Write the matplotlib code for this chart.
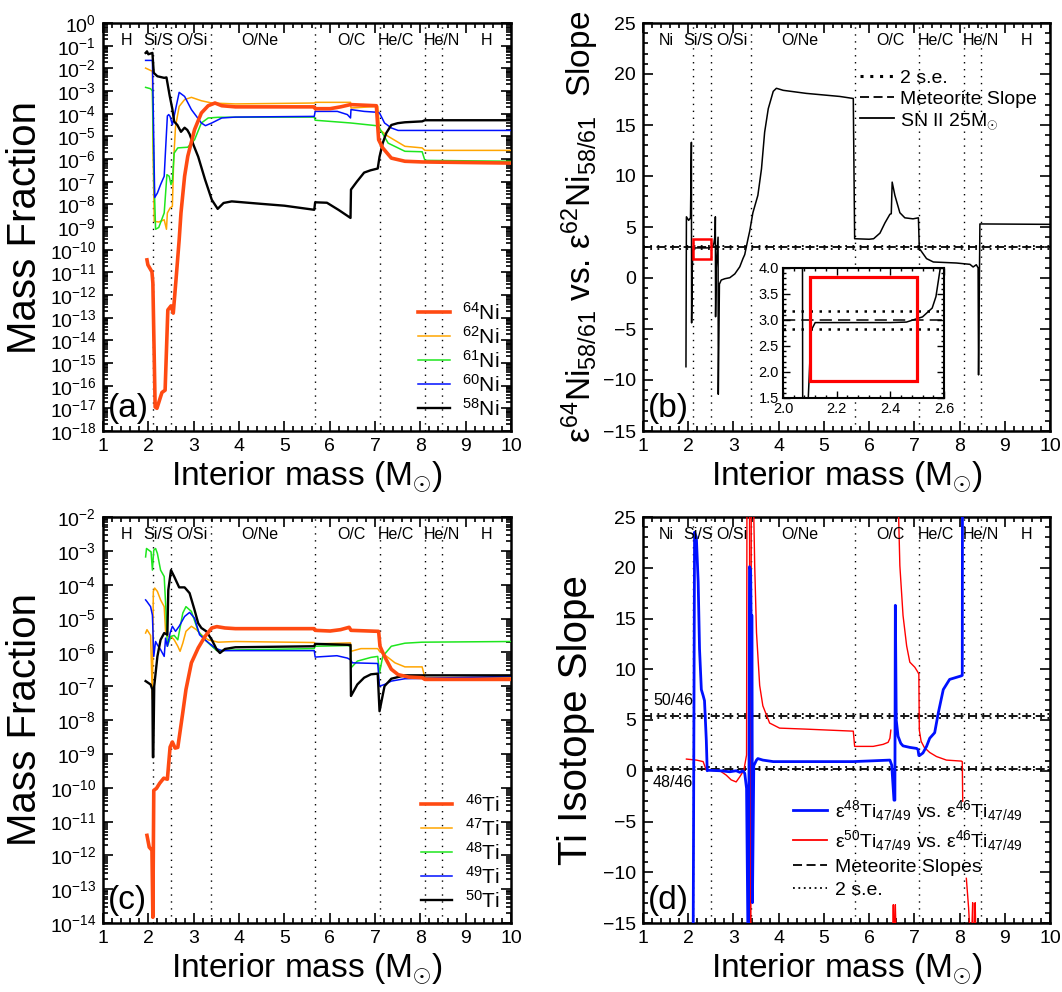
import numpy as np
import matplotlib
matplotlib.use('Agg')
import matplotlib.pyplot as plt
from matplotlib.ticker import AutoMinorLocator, MultipleLocator, LogLocator, LogFormatterMathtext, FormatStrFormatter
from matplotlib.patches import Rectangle
from matplotlib.lines import Line2D

plt.rcParams['font.family'] = ['Liberation Sans', 'DejaVu Sans']
plt.rcParams['mathtext.fontset'] = 'custom'
plt.rcParams['mathtext.rm'] = 'Liberation Sans'
plt.rcParams['mathtext.it'] = 'Liberation Sans:italic'
plt.rcParams['mathtext.bf'] = 'Liberation Sans:bold'
plt.rcParams['mathtext.sf'] = 'Liberation Sans'

# ---------------- zones ----------------
zone_bounds = [2.1, 2.5, 3.38, 5.68, 7.1, 8.1, 8.48]
zone_label_x = [1.52, 2.22, 2.97, 4.47, 6.48, 7.47, 8.47, 9.47]
zone_names_mass = ['H', 'Si/S', 'O/Si', 'O/Ne', 'O/C', 'He/C', 'He/N', 'H']
zone_names_slope = ['Ni', 'Si/S', 'O/Si', 'O/Ne', 'O/C', 'He/C', 'He/N', 'H']

# ---------------- panel (a): Ni mass fractions (log10 values) ----------------
ni58_x = [1.94, 1.97, 2.0, 2.09, 2.12, 2.2, 2.35, 2.4, 2.47, 2.53, 2.57, 2.64, 2.72, 2.8, 2.86, 2.91,
          3.0, 3.1, 3.25, 3.4, 3.53, 3.66, 3.84, 4.5, 5.0, 5.66, 5.68, 5.94, 6.2, 6.46, 6.47, 6.6,
          6.76, 6.9, 7.06, 7.1, 7.17, 7.25, 7.36, 7.5, 7.66, 8.04, 8.1, 10.0]
ni58_log = [-1.32, -1.25, -1.38, -1.32, -2.2, -2.35, -2.42, -2.4, -3.2, -3.8, -4.35, -4.5, -4.8, -4.62,
            -4.72, -4.9, -5.4, -5.9, -6.9, -7.8, -8.2, -7.94, -7.87, -7.98, -8.06, -8.24, -7.91, -7.93,
            -8.25, -8.6, -7.35, -7.0, -6.6, -6.5, -6.42, -5.9, -5.3, -4.85, -4.5, -4.42, -4.38, -4.34,
            -4.29, -4.29]

ni60_x = [1.94, 2.09, 2.11, 2.14, 2.2, 2.27, 2.35, 2.38, 2.42, 2.45, 2.48, 2.53, 2.6, 2.68, 2.8, 2.95,
          3.17, 3.26, 3.4, 3.62, 3.92, 5.66, 5.68, 6.17, 6.39, 6.46, 6.47, 6.76, 7.06, 7.1, 7.21, 7.36,
          7.51, 10.0]
ni60_log = [-1.65, -1.65, -4.0, -7.7, -7.5, -7.13, -6.76, -5.6, -4.1, -4.04, -4.12, -4.49, -3.82, -3.06,
            -3.24, -3.82, -4.41, -4.53, -4.41, -4.19, -4.15, -4.12, -3.9, -3.9, -4.04, -4.19, -3.82,
            -3.9, -3.94, -3.97, -4.41, -4.63, -4.74, -4.74]

ni62_x = [1.94, 2.09, 2.1, 2.13, 2.23, 2.35, 2.4, 2.42, 2.48, 2.53, 2.56, 2.6, 2.68, 2.8, 2.95, 3.17,
          3.4, 3.92, 5.66, 5.68, 6.46, 6.47, 7.06, 7.1, 7.29, 7.66, 8.04, 8.1, 10.0]
ni62_log = [-1.99, -2.13, -5.0, -8.75, -8.78, -8.68, -9.1, -8.38, -8.16, -8.09, -6.0, -4.56, -3.68,
            -3.38, -3.28, -3.43, -3.53, -3.57, -3.53, -3.5, -3.5, -3.75, -3.68, -4.7, -5.0, -5.44,
            -5.51, -5.62, -5.62]

ni61_x = [1.94, 2.05, 2.09, 2.12, 2.16, 2.23, 2.35, 2.41, 2.46, 2.5, 2.53, 2.57, 2.65, 2.87, 3.02,
          3.17, 3.32, 3.54, 5.66, 5.68, 6.46, 7.03, 7.08, 7.14, 7.29, 7.66, 8.04, 8.1, 10.0]
ni61_log = [-2.84, -2.9, -3.0, -6.5, -9.1, -9.02, -8.38, -6.69, -6.76, -7.13, -6.98, -5.74, -5.51,
            -5.48, -5.15, -4.41, -4.19, -4.16, -4.15, -4.29, -4.41, -4.53, -4.56, -4.78, -5.3, -5.66,
            -5.68, -6.06, -6.1]

ni64_x = [1.97, 1.99, 2.08, 2.1, 2.15, 2.19, 2.3, 2.37, 2.43, 2.5, 2.55, 2.61, 2.68, 2.72, 2.8, 2.87,
          3.02, 3.17, 3.32, 3.47, 3.62, 3.92, 5.66, 5.68, 6.01, 6.24, 6.46, 7.03, 7.08, 7.17, 7.36,
          7.66, 8.04, 10.0]
ni64_log = [-10.45, -10.67, -10.98, -11.47, -16.94, -17.0, -16.3, -16.2, -12.66, -12.48, -12.8,
            -11.34, -9.57, -8.38, -6.76, -5.88, -4.7, -3.97, -3.65, -3.53, -3.65, -3.7, -3.7, -3.78,
            -3.78, -3.7, -3.6, -3.65, -5.15, -5.51, -5.96, -6.1, -6.13, -6.18]

# ---------------- panel (c): Ti mass fractions (log10 values) ----------------
ti46_x = [1.97, 2.02, 2.08, 2.1, 2.12, 2.18, 2.25, 2.34, 2.42, 2.48, 2.53, 2.59, 2.65, 2.76, 2.83,
          2.95, 3.1, 3.25, 3.4, 3.51, 3.69, 3.92, 5.66, 5.68, 6.01, 6.24, 6.43, 6.47, 7.08, 7.11,
          7.21, 7.36, 7.51, 7.74, 8.04, 8.1, 10.0]
ti46_log = [-11.41, -11.76, -11.85, -13.83, -10.08, -10.02, -9.87, -9.72, -9.75, -8.8, -8.65, -8.83,
            -8.81, -7.78, -7.1, -6.31, -5.87, -5.53, -5.28, -5.24, -5.28, -5.3, -5.3, -5.35, -5.37,
            -5.33, -5.26, -5.35, -5.38, -5.82, -6.12, -6.5, -6.66, -6.73, -6.75, -6.8, -6.8]

ti47_x = [1.94, 1.97, 2.05, 2.09, 2.11, 2.14, 2.2, 2.27, 2.35, 2.38, 2.42, 2.5, 2.57, 2.65, 2.7,
          2.76, 2.83, 2.95, 3.06, 3.17, 3.32, 3.54, 3.92, 5.66, 5.68, 6.46, 6.47, 6.69, 7.06, 7.1,
          7.21, 7.44, 7.66, 8.04, 8.1, 10.0]
ti47_log = [-5.43, -5.33, -5.5, -7.39, -4.2, -4.1, -4.2, -4.45, -4.65, -5.38, -5.53, -5.53, -5.63,
            -5.82, -5.97, -5.73, -5.38, -5.23, -5.33, -5.48, -5.63, -5.7, -5.68, -5.71, -5.75, -5.72,
            -5.97, -5.89, -5.89, -5.97, -6.07, -6.31, -6.43, -6.43, -6.75, -6.75]

ti48_x = [1.94, 1.96, 2.06, 2.09, 2.12, 2.16, 2.2, 2.27, 2.35, 2.39, 2.42, 2.5, 2.57, 2.65, 2.76,
          2.83, 2.95, 3.1, 3.25, 3.4, 3.51, 3.92, 5.66, 5.68, 6.39, 6.46, 6.47, 6.61, 6.91, 7.06,
          7.1, 7.17, 7.36, 7.66, 8.04, 10.0]
ti48_log = [-3.18, -2.93, -3.03, -3.57, -2.98, -2.93, -3.08, -3.57, -3.76, -4.8, -5.82, -5.53, -5.5,
            -5.63, -4.84, -4.65, -4.79, -5.38, -5.63, -5.82, -5.95, -5.93, -5.89, -5.82, -5.8, -5.82,
            -6.46, -6.26, -6.15, -6.12, -6.61, -6.12, -5.82, -5.73, -5.7, -5.68]

ti49_x = [1.94, 1.97, 2.05, 2.09, 2.12, 2.16, 2.2, 2.27, 2.35, 2.38, 2.42, 2.48, 2.53, 2.6, 2.68,
          2.8, 2.91, 3.02, 3.13, 3.25, 3.47, 3.62, 5.66, 5.68, 6.16, 6.39, 6.46, 6.5, 7.06, 7.1,
          7.21, 7.36, 7.66, 8.04, 10.0]
ti49_log = [-4.45, -4.5, -4.65, -4.9, -6.12, -5.68, -5.78, -5.92, -6.12, -5.58, -5.82, -5.43, -5.23,
            -5.38, -5.23, -4.94, -4.82, -4.99, -5.48, -5.63, -5.87, -5.95, -5.95, -6.14, -6.1, -6.17,
            -6.22, -6.31, -6.33, -7.0, -6.95, -6.85, -6.78, -6.77, -6.71]

ti50_x = [1.94, 2.05, 2.09, 2.1, 2.11, 2.13, 2.2, 2.27, 2.35, 2.42, 2.44, 2.5, 2.57, 2.68, 2.8, 2.91,
          3.02, 3.1, 3.17, 3.28, 3.4, 3.51, 3.58, 3.69, 3.92, 5.66, 5.68, 6.46, 6.47, 6.61, 6.76,
          6.91, 7.06, 7.1, 7.21, 7.36, 7.66, 10.0]
ti50_log = [-6.85, -6.95, -7.1, -9.1, -9.1, -7.0, -6.12, -5.63, -5.43, -5.48, -4.16, -3.57, -3.76,
            -4.08, -4.08, -4.25, -4.75, -5.14, -5.28, -5.38, -5.63, -5.92, -6.02, -5.9, -5.85, -5.82,
            -5.75, -5.78, -7.29, -6.95, -6.75, -6.65, -6.63, -7.74, -7.0, -6.78, -6.68, -6.68]

# ---------------- panel (b): Ni slope ----------------
nislope_x = [1.95, 1.96, 2.01, 2.05, 2.07, 2.075, 2.09, 2.105, 2.12, 2.3, 2.4, 2.46, 2.52, 2.556,
             2.57, 2.585, 2.595, 2.6, 2.605, 2.62, 2.66, 2.665, 2.69, 2.73, 2.81, 2.92, 3.03, 3.14,
             3.21, 3.25, 3.32, 3.36, 3.43, 3.54, 3.62, 3.69, 3.77, 3.88, 3.95, 4.1, 4.61, 5.35,
             5.65, 5.68, 6.0, 6.1, 6.24, 6.35, 6.46, 6.49, 6.51, 6.57, 6.68, 6.79, 6.97, 7.09,
             7.11, 7.27, 7.42, 7.93, 8.23, 8.3, 8.37, 8.41, 8.42, 8.45, 10.0]
nislope_y = [-8.7, 6.0, 5.65, 5.9, 13.3, -4.4, 1.0, 2.8, 2.95, 2.95, 2.95, 2.96, 3.06, 3.23, 3.45,
             3.96, 4.3, 6.0, -3.8, 1.0, 4.0, -11.4, -0.6, -0.2, -0.07, 0.03, 0.4, 1.1, 1.9, 2.3,
             3.8, 4.6, 6.4, 8.1, 10.7, 14.3, 16.6, 18.3, 18.6, 18.4, 18.1, 17.8, 17.6, 3.85, 3.8,
             3.85, 4.4, 5.4, 6.25, 6.3, 9.4, 8.1, 6.4, 5.9, 5.8, 5.9, 2.9, 1.9, 1.57, 1.47, 1.34,
             1.08, 1.3, 1.0, -9.5, 5.3, 5.26]
ni_meteorite_slope = 3.0
ni_slope_2se = 0.17

# ---------------- panel (d): Ti slopes ----------------
ti48_slope_x = [2.11, 2.14, 2.18, 2.22, 2.25, 2.29, 2.33, 2.36, 2.4, 2.42, 2.44, 2.7, 2.92, 3.06, 3.14,
                3.21, 3.25, 3.29, 3.32, 3.335, 3.355, 3.38, 3.39, 3.41, 3.42, 3.45, 3.51, 3.54, 3.65,
                3.88, 5.65, 6.46, 6.5, 6.55, 6.57, 6.58, 6.6, 6.64, 6.7, 6.75, 6.9, 7.05, 7.08, 7.1,
                7.13, 7.19, 7.27, 7.34, 7.45, 7.53, 7.64, 7.78, 8.04, 8.06, 8.065]
ti48_slope_y = [-16, 23.5, 23.0, 18.6, 12.0, 8.0, 7.4, 6.9, 3.0, 0.0, 0.05, 0.0, -0.1, 0.0, -0.15,
                0.0, -0.25, -1.75, -16, -16, 20.1, 19.8, 15.3, 15.3, -13.0, 0.5, 1.05, 1.2, 1.05,
                0.9, 0.9, 1.05, 0.55, -2.9, -2.9, 16.3, 5.0, 3.4, 2.7, 2.45, 2.3, 2.2, 2.1, 1.5,
                1.55, 1.75, 2.4, 3.2, 3.75, 5.7, 8.0, 9.0, 9.35, 9.4, 30]

nan = np.nan
ti50_slope_x = [1.96, 2.18, 2.33, 2.4, 2.7, 2.84, 2.95, 3.06, 3.14, 3.23, 3.29, 3.30, nan,
                3.355, 3.365, nan, 3.385, 3.395, nan, 3.43, 3.47, 3.51, 3.58, 3.65, 3.8, 4.02, 4.61,
                5.65, 5.68, 6.09, 6.31, 6.42, 6.46, 6.48, nan, 6.52, 6.535, 6.55, nan, 6.565, 6.58,
                6.595, nan, 6.625, 6.68, 6.75, 6.83, 6.9, 7.01, 7.08, 7.1, 7.11, 7.15, 7.22, 7.34,
                7.49, 7.71, 8.04, 8.06, 8.07, nan, 8.15, 8.2, 8.23, nan, 8.27, 8.29, 8.3, nan,
                8.33, 8.345, 8.36]
ti50_slope_y = [1.15, 1.05, 0.9, 0.05, 0.0, -0.43, -0.9, -1.1, -0.6, 0.05, 1.55, 30, nan,
                30, -16, nan, -16, 30, nan, 30, 20.2, 13.6, 8.4, 6.4, 4.7, 4.2, 4.1, 3.9, 2.4, 2.4,
                2.6, 2.8, 3.2, 4.0, nan, -16, -13.2, -16, nan, -16, -13.2, -16, nan, 30, 20.2,
                15.3, 12.3, 10.7, 10.2, 9.7, 9.5, 4.0, 2.9, 2.3, 1.8, 1.4, 1.05, 0.95, 0.9, -3.0,
                nan, -10.6, -13.5, -16, nan, -16, -13.0, -16, nan, -16, -13.0, -16]
ti_meteorite_slopes = [5.4, 0.2]
ti_slope_2se = [0.22, 0.15]
ti_slope_names = ['50/46', '48/46']

# ---------------- figure ----------------
W, H = 1062, 992
fig = plt.figure(figsize=(W / 100, H / 100), dpi=100)

def px_axes(x0, y0, x1, y1):
    return fig.add_axes([x0 / W, 1 - y1 / H, (x1 - x0) / W, (y1 - y0) / H])

ax_a = px_axes(103, 23, 511, 431)
ax_b = px_axes(643, 23, 1050, 431)
ax_c = px_axes(103, 517, 511, 923)
ax_d = px_axes(643, 517, 1050, 923)

DOT = (0, (1, 4))

def style(ax, log=False):
    ax.set_xlim(1, 10)
    ax.xaxis.set_major_locator(MultipleLocator(1))
    ax.xaxis.set_minor_locator(AutoMinorLocator(5))
    if log:
        ax.set_yscale('log')
        ax.yaxis.set_major_locator(LogLocator(base=10, numticks=40))
        ax.yaxis.set_minor_locator(LogLocator(base=10, subs=np.arange(2, 10), numticks=40))
        ax.yaxis.set_major_formatter(LogFormatterMathtext())
    else:
        ax.yaxis.set_major_locator(MultipleLocator(5))
        ax.yaxis.set_minor_locator(AutoMinorLocator(5))
    ax.tick_params(which='both', direction='in', top=True, right=True, width=1.2)
    ax.tick_params(which='major', length=7, labelsize=14, pad=5)
    ax.tick_params(which='minor', length=3.5)
    for s in ax.spines.values():
        s.set_linewidth(1.8)
    ax.set_xlabel('Interior mass (M$_{\\odot}$)', fontsize=24)
    ax.xaxis.set_label_coords(0.5, -0.115)
    ax.xaxis.label.set_va('center')

def ylab(ax, text, size, xpos):
    ax.set_ylabel(text, fontsize=size)
    ax.yaxis.set_label_coords(xpos, 0.5)
    ax.yaxis.label.set_va('center')

def zones(ax, names):
    for b in zone_bounds:
        ax.axvline(b, color='k', lw=1.0, ls=DOT, zorder=1)
    tr = ax.get_xaxis_transform()
    for xl, nm in zip(zone_label_x, names):
        ax.text(xl, 0.958, nm, transform=tr, ha='center', va='center', fontsize=11.5, zorder=5)

# ---- panel a ----
style(ax_a, log=True)
ax_a.set_ylim(1e-18, 1)
zones(ax_a, zone_names_mass)
ax_a.plot(ni64_x, np.power(10.0, ni64_log), color='#ff4a12', lw=2.6, label='$^{64}$Ni', zorder=4)
ax_a.plot(ni62_x, np.power(10.0, ni62_log), color='#ffa500', lw=1.1, label='$^{62}$Ni', zorder=3)
ax_a.plot(ni61_x, np.power(10.0, ni61_log), color='#1ee61e', lw=1.1, label='$^{61}$Ni', zorder=3)
ax_a.plot(ni60_x, np.power(10.0, ni60_log), color='#0010ff', lw=1.1, label='$^{60}$Ni', zorder=3)
ax_a.plot(ni58_x, np.power(10.0, ni58_log), color='k', lw=1.7, label='$^{58}$Ni', zorder=3)
ax_a.legend(loc='lower right', bbox_to_anchor=(1.0, 0.0), frameon=False, fontsize=15,
            handlelength=1.5, handletextpad=0.6, labelspacing=0.1, borderaxespad=0.15)
ylab(ax_a, 'Mass Fraction', 29, -0.19)
ax_a.text(0.012, 0.018, '(a)', transform=ax_a.transAxes, fontsize=24, ha='left', va='bottom')

# ---- panel c ----
style(ax_c, log=True)
ax_c.set_ylim(1e-14, 1e-2)
zones(ax_c, zone_names_mass)
ax_c.plot(ti46_x, np.power(10.0, ti46_log), color='#ff4a12', lw=2.6, label='$^{46}$Ti', zorder=4)
ax_c.plot(ti47_x, np.power(10.0, ti47_log), color='#ffa500', lw=1.1, label='$^{47}$Ti', zorder=3)
ax_c.plot(ti48_x, np.power(10.0, ti48_log), color='#1ee61e', lw=1.1, label='$^{48}$Ti', zorder=3)
ax_c.plot(ti49_x, np.power(10.0, ti49_log), color='#0010ff', lw=1.1, label='$^{49}$Ti', zorder=3)
ax_c.plot(ti50_x, np.power(10.0, ti50_log), color='k', lw=1.7, label='$^{50}$Ti', zorder=3)
ax_c.legend(loc='lower right', bbox_to_anchor=(1.0, 0.0), frameon=False, fontsize=15,
            handlelength=1.5, handletextpad=0.6, labelspacing=0.1, borderaxespad=0.15)
ylab(ax_c, 'Mass Fraction', 29, -0.19)
ax_c.text(0.012, 0.018, '(c)', transform=ax_c.transAxes, fontsize=24, ha='left', va='bottom')

# ---- panel b ----
style(ax_b)
ax_b.set_ylim(-15, 25)
zones(ax_b, zone_names_slope)
ax_b.axhline(ni_meteorite_slope, color='k', lw=1.3, ls=(0, (5, 2.5)), zorder=2)
ax_b.axhline(ni_meteorite_slope + ni_slope_2se, color='k', lw=1.3, ls=(0, (1, 3)), zorder=2)
ax_b.axhline(ni_meteorite_slope - ni_slope_2se, color='k', lw=1.3, ls=(0, (1, 3)), zorder=2)
ax_b.plot(nislope_x, nislope_y, color='k', lw=1.1, zorder=3)
ax_b.add_patch(Rectangle((2.1, 1.83), 0.4, 2.0, fill=False, ec='#ff0000', lw=1.8, zorder=4))
hb = [Line2D([], [], color='k', lw=2.2, ls=(0, (1, 2.2))),
      Line2D([], [], color='k', lw=1.3, ls=(0, (5, 2.5))),
      Line2D([], [], color='k', lw=1.3)]
ax_b.legend(hb, ['2 s.e.', 'Meteorite Slope', 'SN II 25M$_{\\odot}$'], loc='upper left',
            bbox_to_anchor=(0.515, 0.905), frameon=False, fontsize=14, handlelength=1.75,
            handletextpad=0.3, labelspacing=0.15, borderaxespad=0)
ylab(ax_b, 'ε$^{64}$Ni$_{58/61}$ vs. ε$^{62}$Ni$_{58/61}$  Slope', 24, -0.155)
ax_b.text(0.012, 0.018, '(b)', transform=ax_b.transAxes, fontsize=24, ha='left', va='bottom')

# inset
ax_in = px_axes(783, 268, 944, 398)
ax_in.set_xlim(2.0, 2.6)
ax_in.set_ylim(1.5, 4.0)
ax_in.xaxis.set_major_locator(MultipleLocator(0.2))
ax_in.xaxis.set_minor_locator(AutoMinorLocator(5))
ax_in.yaxis.set_major_locator(MultipleLocator(0.5))
ax_in.yaxis.set_minor_locator(AutoMinorLocator(5))
ax_in.xaxis.set_major_formatter(FormatStrFormatter('%.1f'))
ax_in.yaxis.set_major_formatter(FormatStrFormatter('%.1f'))
ax_in.tick_params(which='both', direction='in', top=True, right=True, width=1.0)
ax_in.tick_params(which='major', length=5, labelsize=10.5, pad=3)
ax_in.tick_params(which='minor', length=2.5)
for s in ax_in.spines.values():
    s.set_linewidth(1.5)
ax_in.axhline(ni_meteorite_slope, color='k', lw=1.1, ls=(0, (8, 4)), zorder=2)
ax_in.axhline(ni_meteorite_slope + ni_slope_2se, color='k', lw=1.8, ls=(0, (1, 2.6)), zorder=2)
ax_in.axhline(ni_meteorite_slope - ni_slope_2se, color='k', lw=1.8, ls=(0, (1, 2.6)), zorder=2)
ax_in.plot(nislope_x, nislope_y, color='k', lw=1.1, zorder=3)
ax_in.add_patch(Rectangle((2.1, 1.83), 0.4, 2.0, fill=False, ec='#ff0000', lw=2.3, zorder=4))

# ---- panel d ----
style(ax_d)
ax_d.set_ylim(-15, 25)
zones(ax_d, zone_names_slope)
for m, se in zip(ti_meteorite_slopes, ti_slope_2se):
    ax_d.axhline(m, color='k', lw=1.3, ls=(0, (5, 2.5)), zorder=2)
    ax_d.axhline(m + se, color='k', lw=1.3, ls=(0, (1, 3)), zorder=2)
    ax_d.axhline(m - se, color='k', lw=1.3, ls=(0, (1, 3)), zorder=2)
ax_d.text(1.22, 6.9, ti_slope_names[0], fontsize=11.5, ha='left', va='center')
ax_d.text(1.22, -1.2, ti_slope_names[1], fontsize=11.5, ha='left', va='center')
ax_d.plot(ti50_slope_x, ti50_slope_y, color='#ff0000', lw=1.0, zorder=3)
ax_d.plot(ti48_slope_x, ti48_slope_y, color='#0010ff', lw=2.0, zorder=4)
hd = [Line2D([], [], color='#0010ff', lw=2.0),
      Line2D([], [], color='#ff0000', lw=1.3),
      Line2D([], [], color='k', lw=1.3, ls=(0, (5, 2.5))),
      Line2D([], [], color='k', lw=1.3, ls=(0, (1, 2)))]
ax_d.legend(hd, ['ε$^{48}$Ti$_{47/49}$ vs. ε$^{46}$Ti$_{47/49}$',
                 'ε$^{50}$Ti$_{47/49}$ vs. ε$^{46}$Ti$_{47/49}$',
                 'Meteorite Slopes', '2 s.e.'],
            loc='lower left', bbox_to_anchor=(0.35, 0.04), frameon=False, fontsize=14,
            handlelength=1.75, handletextpad=0.4, labelspacing=0.28, borderaxespad=0)
ylab(ax_d, 'Ti Isotope Slope', 29, -0.165)
ax_d.text(0.012, 0.018, '(d)', transform=ax_d.transAxes, fontsize=24, ha='left', va='bottom')

fig.savefig('out.png', dpi=100)
